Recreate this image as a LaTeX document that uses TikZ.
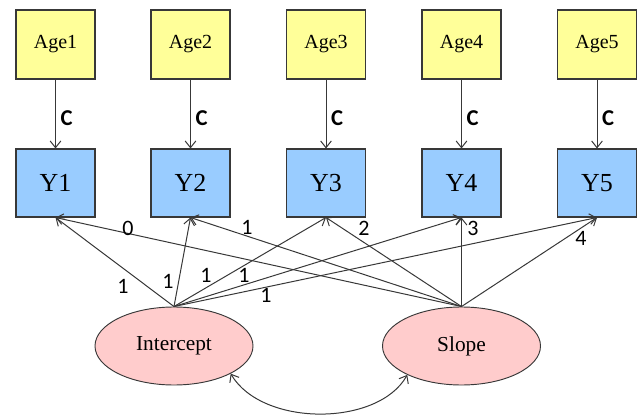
\documentclass[tikz,border=0pt]{standalone}
\usepackage{fontspec}
\setmainfont{Liberation Serif}
\newfontfamily\calfont{Carlito}
\usetikzlibrary{shapes.geometric,arrows.meta}
\definecolor{agefill}{HTML}{FFFF99}
\definecolor{yfill}{HTML}{99CCFF}
\definecolor{lfill}{HTML}{FFCCCC}
\definecolor{edge}{HTML}{383838}
\tikzset{
  agebox/.style={draw=edge, line width=0.8pt, fill=agefill, minimum width=59.25pt, minimum height=51.75pt, inner sep=0pt, font=\fontsize{15}{17}\selectfont},
  ybox/.style={draw=edge, line width=0.8pt, fill=yfill, minimum width=59.25pt, minimum height=51pt, inner sep=0pt, font=\fontsize{19.5}{22}\selectfont},
  latent/.style={ellipse, draw=edge, line width=0.7pt, fill=lfill, minimum width=118.5pt, minimum height=58.5pt, inner sep=0pt, font=\fontsize{16}{18}\selectfont},
  path/.style={draw=edge, line width=0.75pt, -{Straight Barb[length=5pt,width=8pt]}},
  cov/.style={draw=edge, line width=0.75pt, {Straight Barb[length=5pt,width=8pt]}-{Straight Barb[length=5pt,width=8pt]}},
  num/.style={font=\calfont\fontsize{16.5}{18}\selectfont, text=black, inner sep=0pt},
  clab/.style={font=\calfont\bfseries\fontsize{17}{19}\selectfont, text=black, inner sep=0pt}
}
\begin{document}
\begin{tikzpicture}[x=0.75pt,y=-0.75pt]
\useasboundingbox (0,0) rectangle (638,416);
\foreach \i/\x in {1/55.5,2/190.5,3/326,4/461.5,5/597}{
  \node[agebox] (A\i) at (\x,44.5) {Age\i};
  \node[ybox] (Y\i) at (\x,183) {Y\i};
  \draw[path] (A\i) -- (Y\i);
  \node[clab] at (\x+11,118) {C};
}
\node[latent] (I) at (174,346) {Intercept};
\node[latent] (S) at (461.5,346) {Slope};
\foreach \i in {1,...,5}{
  \draw[path] (I.north) -- (Y\i.south);
  \draw[path] (S.north) -- (Y\i.south);
}
\draw[cov] (I.-26) .. controls (262,427) and (378,427) .. (S.-152);
% intercept loadings
\node[num] at (123,286) {1};
\node[num] at (168,281) {1};
\node[num] at (206,275) {1};
\node[num] at (244,275) {1};
\node[num] at (266,295) {1};
% slope loadings
\node[num] at (128,228) {0};
\node[num] at (247,227) {1};
\node[num] at (364,228) {2};
\node[num] at (473,228) {3};
\node[num] at (581,238) {4};
\end{tikzpicture}
\end{document}
